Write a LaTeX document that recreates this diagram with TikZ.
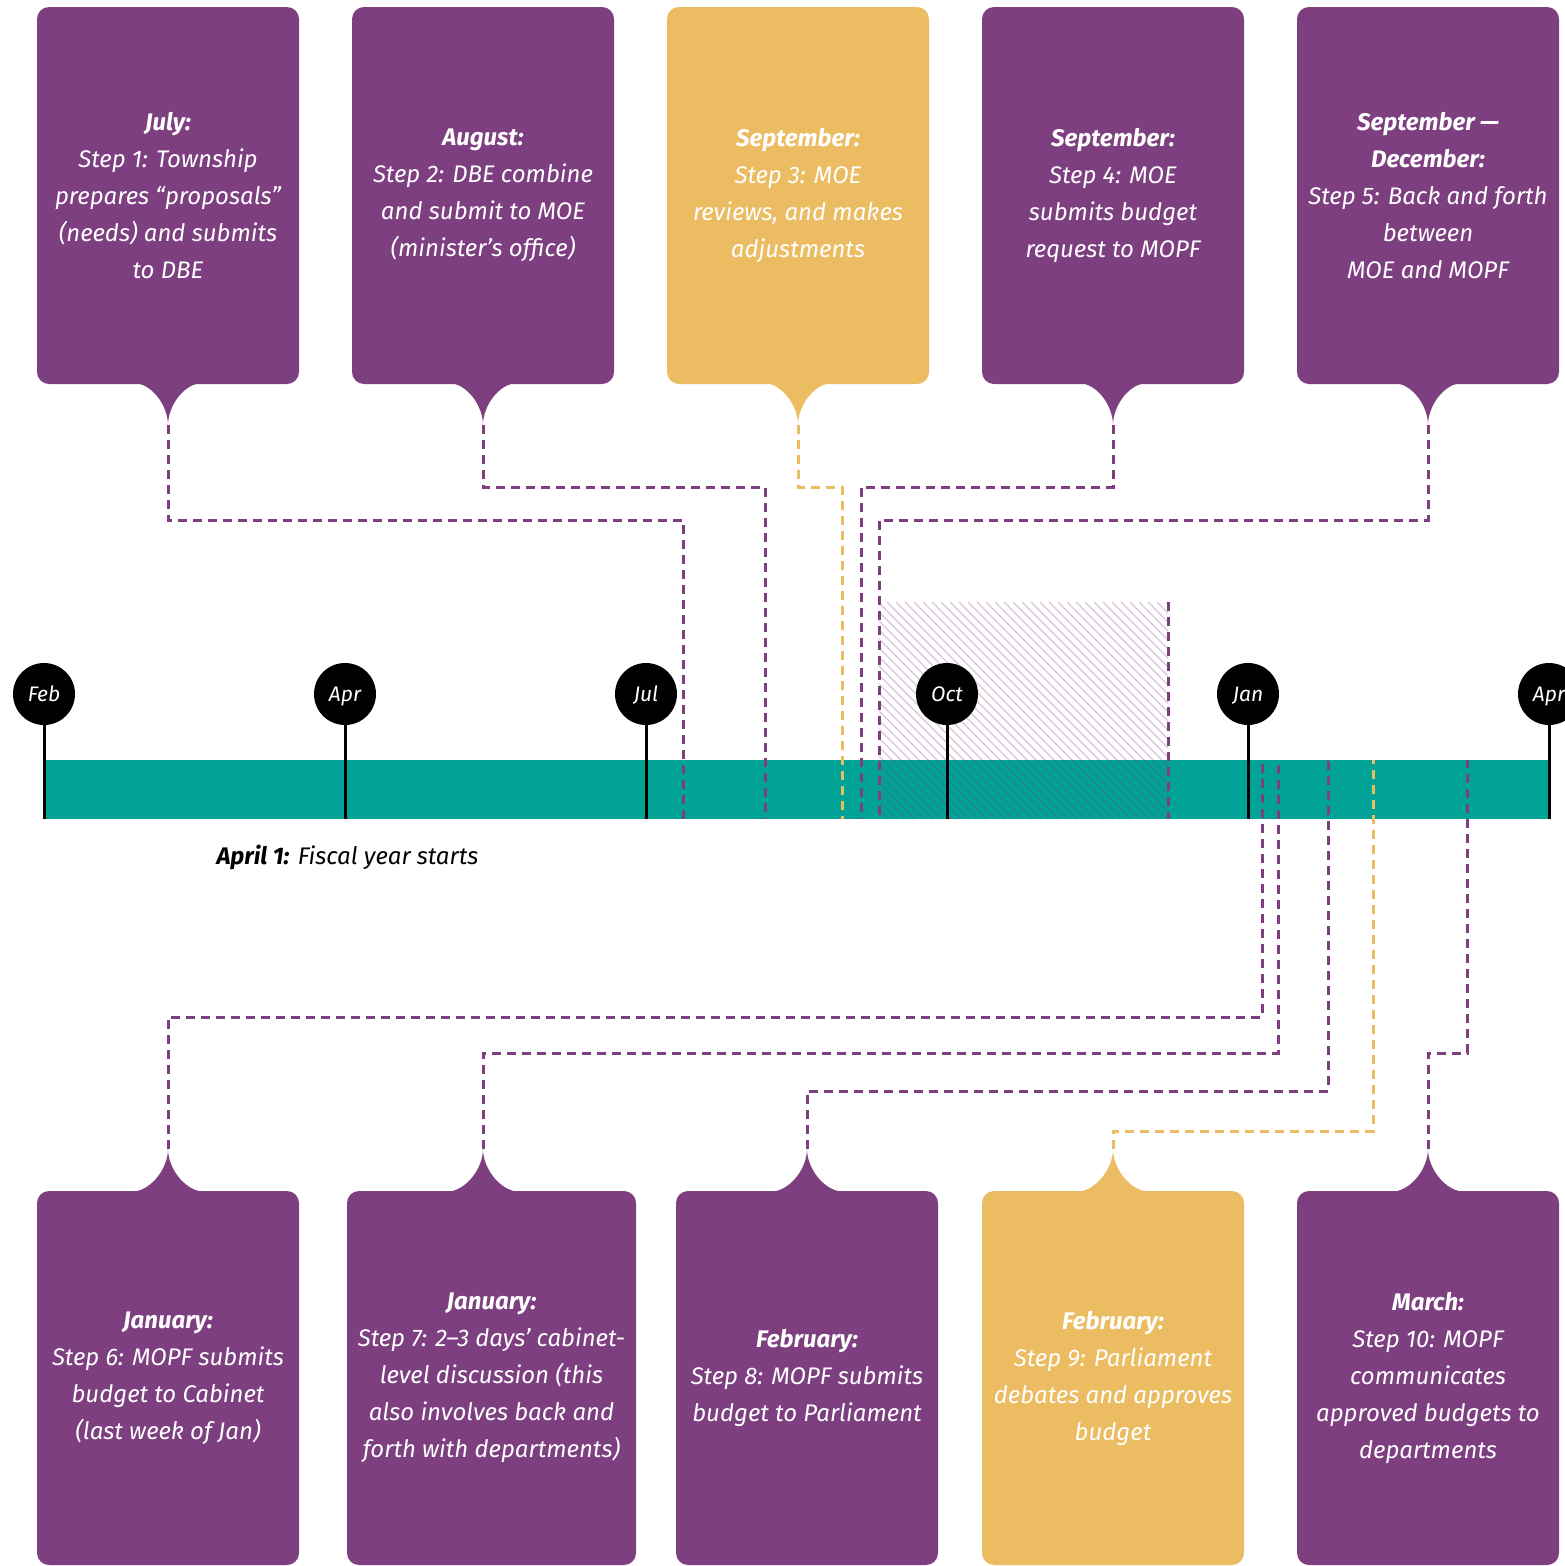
\documentclass[tikz,border=0pt]{standalone}
\usepackage{fontspec}
\setmainfont{Fira Sans}
\usetikzlibrary{calc,positioning}
\definecolor{plum}{HTML}{7D3F80}
\definecolor{gold}{HTML}{EBBC62}
\definecolor{sea}{HTML}{00A396}
\newcommand{\droptail}[4]{% tip, rise, half width, colour
  \fill[#4] ($(#1)+(-#3,#2)$) .. controls ($(#1)+(-0.45*#3,#2)$) and ($(#1)+(0,0.45*#2)$) .. (#1)
    .. controls ($(#1)+(0,0.45*#2)$) and ($(#1)+(0.45*#3,#2)$) .. ($(#1)+(#3,#2)$) -- cycle;}

\begin{document}
\begin{tikzpicture}[x=1pt,y=-1pt,
  stepbox/.style={fill=#1,rounded corners=12pt,minimum width=262pt,inner sep=0pt,
    text=white,align=center,font=\fontsize{24}{37}\selectfont\itshape},
  monthdot/.style={circle,fill=black,minimum size=62pt,inner sep=0pt,text=white,
    text height=15pt,text depth=0pt,font=\fontsize{21}{24}\selectfont\itshape},
  link/.style={#1,line width=3pt,dash pattern=on 9pt off 6pt},
  stem/.style={line width=3pt}]
  \useasboundingbox (0,0) rectangle (1564,1566);
  % timeline bar
  \node[fill=sea,minimum width=1506pt,minimum height=59pt,inner sep=0pt,anchor=north west] (bar) at (44,760) {};
  % hatched window
  \begin{scope}
    \clip (879,602) rectangle (1168,819);
    \foreach \k in {0,...,57}
      \draw[plum,opacity=.3,line width=1.2pt] (662+9*\k,602) -- ++(217,217);
  \end{scope}
  % months
  \node[monthdot] (feb)  at (44,694)   {Feb};
  \node[monthdot] (apr)  at (345,694)  {Apr};
  \node[monthdot] (jul)  at (646,694)  {Jul};
  \node[monthdot] (oct)  at (947,694)  {Oct};
  \node[monthdot] (jan)  at (1248,694) {Jan};
  \node[monthdot] (apr2) at (1549,694) {Apr};
  \foreach \m in {feb,apr,jul,oct,jan,apr2}
    \draw[stem] (\m.south) -- (\m.south |- bar.south);
  \node[anchor=west,font=\fontsize{24}{28}\selectfont\itshape] (fy) at (213,857)
    {\textbf{April 1:} Fiscal year starts};
  % top steps
  \node[stepbox=plum,minimum height=377pt] (s1) at (168,195.5)
    {\textbf{July:}\\Step 1: Township\\prepares “proposals”\\(needs) and submits\\to DBE};
  \node[stepbox=plum,minimum height=377pt] (s2) at (483,195.5)
    {\textbf{August:}\\Step 2: DBE combine\\and submit to MOE\\(minister’s office)};
  \node[stepbox=gold,minimum height=377pt] (s3) at (798,195.5)
    {\textbf{September:}\\Step 3: MOE\\reviews, and makes\\adjustments};
  \node[stepbox=plum,minimum height=377pt] (s4) at (1113,195.5)
    {\textbf{September:}\\Step 4: MOE\\submits budget\\request to MOPF};
  \node[stepbox=plum,minimum height=377pt] (s5) at (1428,195.5)
    {\textbf{September —}\\\textbf{December:}\\Step 5: Back and forth\\between\\MOE and MOPF};
  % bottom steps
  \node[stepbox=plum,minimum height=374pt] (s6) at (168,1378)
    {\textbf{January:}\\Step 6: MOPF submits\\budget to Cabinet\\(last week of Jan)};
  \node[stepbox=plum,minimum height=374pt,minimum width=289pt] (s7) at (491.5,1378)
    {\textbf{January:}\\Step 7: 2–3 days’ cabinet-\\level discussion (this\\also involves back and\\forth with departments)};
  \node[stepbox=plum,minimum height=374pt] (s8) at (807,1378)
    {\textbf{February:}\\Step 8: MOPF submits\\budget to Parliament};
  \node[stepbox=gold,minimum height=374pt] (s9) at (1113,1378)
    {\textbf{February:}\\Step 9: Parliament\\debates and approves\\budget};
  \node[stepbox=plum,minimum height=374pt] (s10) at (1428,1378)
    {\textbf{March:}\\Step 10: MOPF\\communicates\\approved budgets to\\departments};
  % tail tips
  \coordinate (t1) at (168,425);  \coordinate (t2) at (483,425);  \coordinate (t3) at (798,425);
  \coordinate (t4) at (1113,425); \coordinate (t5) at (1428,425);
  \coordinate (t6) at (168,1149); \coordinate (t7) at (483,1149); \coordinate (t8) at (807,1149);
  \coordinate (t9) at (1113,1149); \coordinate (t10) at (1428,1149);
  \droptail{t1}{-42}{35}{plum} \droptail{t2}{-42}{35}{plum} \droptail{t3}{-42}{35}{gold}
  \droptail{t4}{-42}{35}{plum} \droptail{t5}{-42}{35}{plum}
  \droptail{t6}{43}{38}{plum} \droptail{t7}{43}{38}{plum} \droptail{t8}{43}{38}{plum}
  \droptail{t9}{43}{38}{gold} \droptail{t10}{43}{38}{plum}
  % ends on the bar
  \coordinate (e1) at (683,819);  \coordinate (e2) at (765,819);  \coordinate (e3) at (842,819);
  \coordinate (e4) at (861,819);  \coordinate (e5) at (879,819);
  \coordinate (e6) at (1262,760); \coordinate (e7) at (1278,760); \coordinate (e8) at (1328,760);
  \coordinate (e9) at (1373,760); \coordinate (e10) at (1467,760);
  % links
  \draw[link=plum] (t1) -- ++(0,95) -| (e1);
  \draw[link=plum] (t2) -- ++(0,62) -| (e2);
  \draw[link=gold] (t3) -- ++(0,62) -| (e3);
  \draw[link=plum] (t4) -- ++(0,62) -| (e4);
  \draw[link=plum] (t5) -- ++(0,95) -| (e5);
  \draw[link=plum] (1168,602) -- (1168,819);
  \draw[link=plum] (t6) -- ++(0,-132) -| (e6);
  \draw[link=plum] (t7) -- ++(0,-96) -| (e7);
  \draw[link=plum] (t8) -- ++(0,-58) -| (e8);
  \draw[link=gold] (t9) -- ++(0,-18) -| (e9);
  \draw[link=plum] (t10) -- ++(0,-96) -| (e10);
\end{tikzpicture}
\end{document}
